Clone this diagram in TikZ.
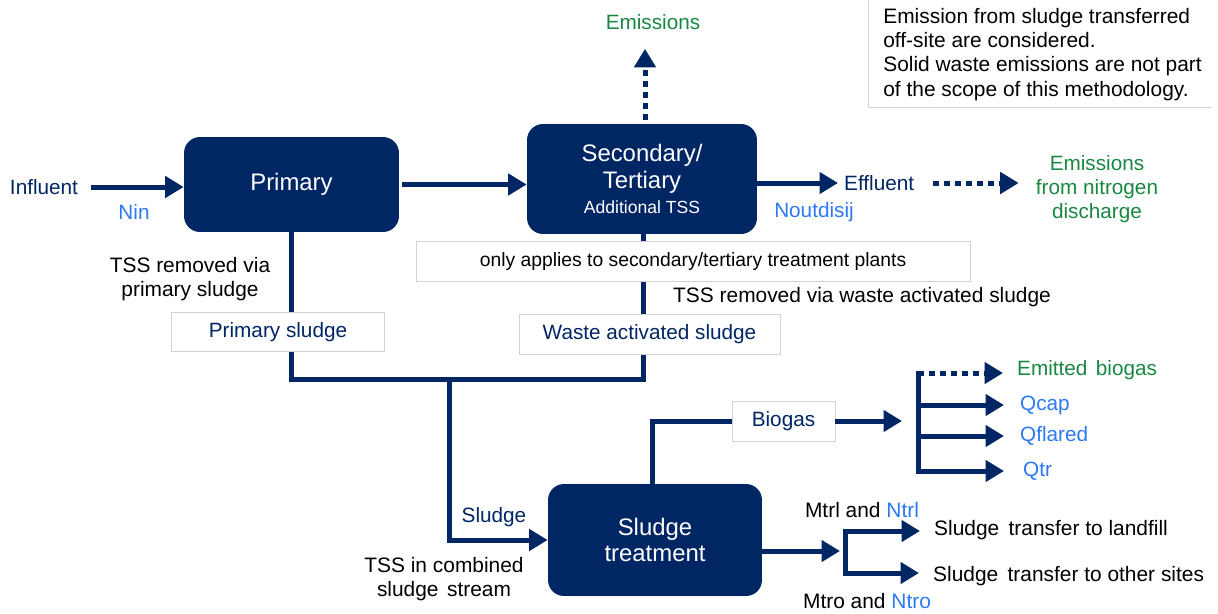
\documentclass[tikz,border=0pt]{standalone}
\usepackage{fontspec}
\setmainfont{Liberation Sans}
\usepackage{xcolor}
\usetikzlibrary{positioning,arrows.meta,calc}
\definecolor{plantnavy}{RGB}{0,38,100}
\definecolor{nblue}{RGB}{45,120,245}
\definecolor{emgreen}{RGB}{25,135,65}
\def\lw{0.1cm}%管线宽度
\tikzset{
	every picture/.style={
		>=latex,
		node distance=5mm and 5mm
}}
\tikzset{
	process/.style={rectangle,rounded corners=0.32cm,fill=plantnavy,text=white,
		align=center,font=\fontsize{13.6}{15.2}\selectfont},
	tag/.style={rectangle,draw=gray!35,fill=white,text=plantnavy,
		font=\fontsize{11.8}{14}\selectfont},
	navytxt/.style={text=plantnavy,font=\fontsize{11.8}{14}\selectfont},
	bluetxt/.style={text=nblue,font=\fontsize{11.8}{14}\selectfont},
	greentxt/.style={text=emgreen,font=\fontsize{11.8}{13.8}\selectfont},
	blacktxt/.style={text=black,font=\fontsize{11.9}{13.8}\selectfont},
	pipe/.style={draw=plantnavy,line width=\lw},
	flow/.style={pipe,-{Triangle[length=0.37cm,width=0.42cm]}},
	dotflow/.style={flow,dash pattern=on 0.12cm off 0.1cm}
}
\begin{document}
\begin{tikzpicture}[x=0.02cm,y=-0.02cm]
\useasboundingbox (0,0) rectangle (1218,613);

%处理单元
\node[process,minimum width=4.3cm,minimum height=1.9cm] (prim) at (291.5,184.5) {Primary};
\node[process,minimum width=4.6cm,minimum height=2.2cm] (sec) at (642,179)
	{Secondary/\\Tertiary\\[-1pt]{\fontsize{10}{12}\selectfont Additional TSS}};
\node[process,minimum width=4.28cm,minimum height=2.24cm] (slt) at (655,540) {Sludge\\treatment};

%进水与出水
\node[navytxt] (infl) at (44,187) {Influent};
\node[bluetxt] (nin) at (134,212) {Nin};
\node[navytxt,anchor=west] (eff) at (838,183) {Effluent};
\node[bluetxt] (nout) at (814,212) {Noutdisij};
\node[greentxt,align=center] (emnit) at (1097,189) {Emissions\\from nitrogen\\discharge};
\node[greentxt] (emis) at (653,22) {Emissions};

\draw[flow,shorten <=0.14cm] (infl.east) -- (infl.east -| prim.west);
\draw[flow,shorten <=0.06cm] (prim.east) -- (prim.east -| sec.west);
\draw[flow] (sec.east |- eff.west) -- (eff.west);
\draw[dotflow,shorten <=0.26cm,shorten >=0.22cm] (eff.east) -- (eff.east -| emnit.west);
\draw[dotflow,shorten >=0.26cm] ($(sec.north)+(3,18)$) -- ($(emis.south)+(-8,0)$ -| {$(sec.north)+(3,0)$});

%污泥管线
\coordinate (join) at (449,379);
\draw[pipe] (prim.south) |- (join);
\draw[pipe] ($(sec.south)+(1,0)$) |- (join);
\draw[flow] (join) |- (slt.west);

%说明框
\node[tag,text=black,font=\fontsize{11}{13}\selectfont,minimum width=11.08cm,minimum height=0.8cm] (only) at (693,261)
	{only applies to secondary/tertiary treatment plants};
\node[tag,minimum width=4.26cm,minimum height=0.78cm] (psl) at (278,332) {Primary sludge};
\node[tag,minimum width=5.22cm,minimum height=0.8cm] (was) at (649.5,334) {Waste activated sludge};

\node[blacktxt,align=center] (tssp) at (190,279) {TSS removed via\\primary sludge};
\node[blacktxt,anchor=west] (tssw) at (667,297) {TSS removed via waste activated sludge};
\node[navytxt] (sl) at (494,517) {Sludge};
\node[blacktxt,align=center] (tssc) at (444,579) {TSS in combined\\sludge\hspace{1.5pt} stream};

%沼气
\node[tag,minimum width=2.06cm,minimum height=0.8cm] (bio) at (783.5,421) {Biogas};
\coordinate (btop) at (918,373);
\coordinate (bbot) at (918,471);
\draw[pipe] ($(slt.north)+(-3,0)$) |- (bio.west);
\draw[flow,shorten >=0.32cm] (bio.east) -- (bio.east -| btop);
\draw[pipe,line cap=rect] (btop) -- (bbot);

\node[greentxt,anchor=west] (emb) at (1011,370) {Emitted\hspace{1.5pt} biogas};
\node[bluetxt,anchor=west] (qcap) at (1014,405) {Qcap};
\node[bluetxt,anchor=west] (qfl) at (1014,436) {Qflared};
\node[bluetxt,anchor=west] (qtr) at (1017,471) {Qtr};

\draw[dotflow,shorten >=0.16cm] (btop) -- (btop -| emb.west);
\draw[flow,shorten >=0.2cm] (btop |- qcap.west) -- (qcap.west);
\draw[flow,shorten >=0.2cm] (btop |- qfl.west) -- (qfl.west);
\draw[flow,shorten >=0.26cm] (bbot) -- (bbot -| qtr.west);

%污泥外运
\coordinate (sout) at (845,551);
\coordinate (lfj) at (845,531);
\coordinate (osj) at (845,573);
\draw[flow,shorten >=0.1cm] (slt.east |- sout) -- (sout);
\draw[pipe,line cap=rect] (lfj) -- (osj);

\node[blacktxt,anchor=west] (lf) at (928,530) {Sludge\hspace{2pt} transfer to landfill};
\node[blacktxt,anchor=west] (os) at (927,576) {Sludge\hspace{2pt} transfer to other sites};
\node[blacktxt] (mtrl) at (862,510) {Mtrl and \textcolor{nblue}{Ntrl}};
\node[blacktxt] (mtro) at (867,601) {Mtro and \textcolor{nblue}{Ntro}};

\draw[flow,shorten >=0.16cm] (lfj) -- (lfj -| lf.west);
\draw[flow,shorten >=0.16cm] (osj) -- (osj -| os.west);

%右上角注释
\node[blacktxt,anchor=north west,align=left,inner xsep=0.3cm,inner ysep=0.16cm] (note) at (868,0)
	{Emission from sludge transferred\\off-site are considered.\\Solid waste emissions are not part\\of the scope of this methodology.};
\draw[gray!35] (note.north west) |- (1211,107);

\end{tikzpicture}
\end{document}
